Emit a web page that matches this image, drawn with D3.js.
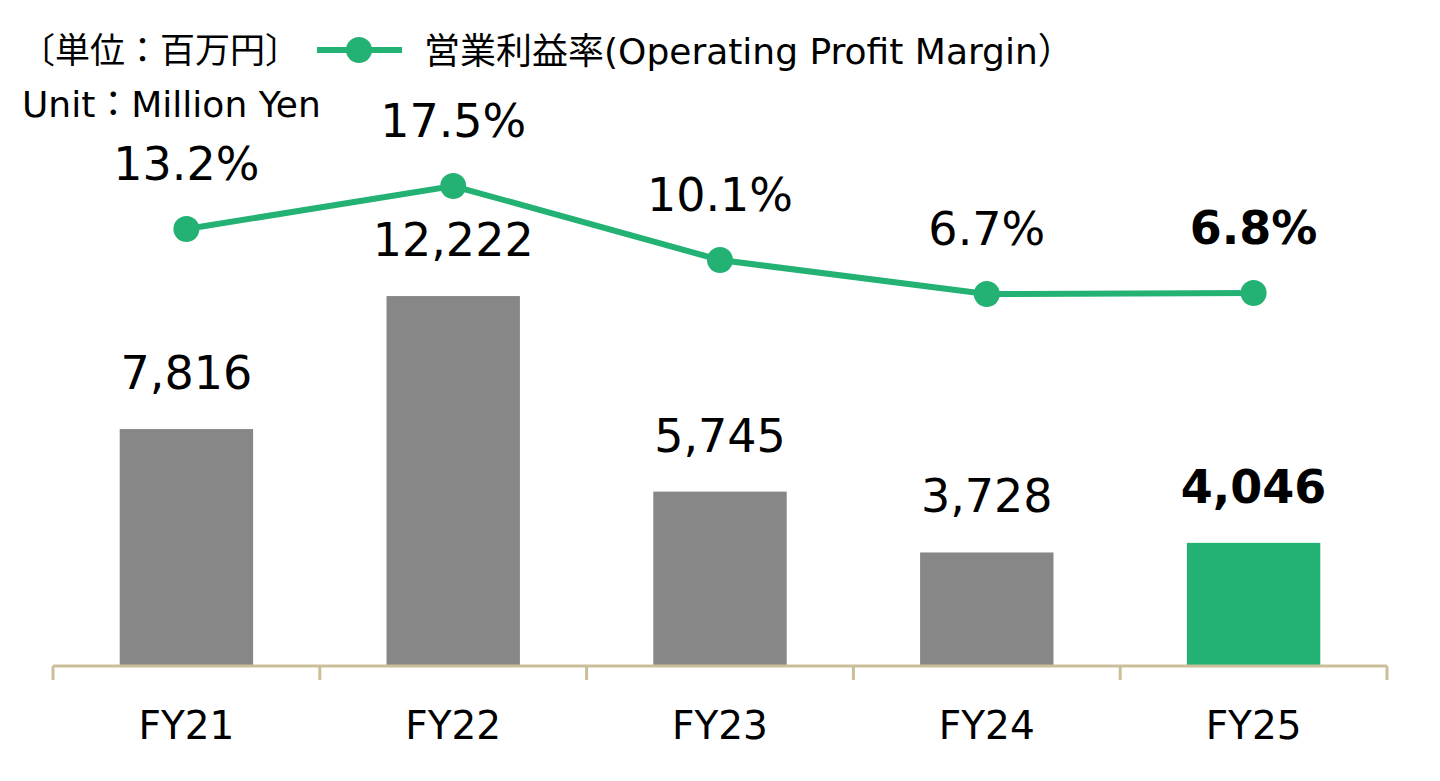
<!DOCTYPE html>
<html>
<head>
<meta charset="utf-8">
<script src="https://cdn.jsdelivr.net/npm/d3@7"></script>
<style>
  body { margin: 0; background: #fff; }
  text { font-family: "DejaVu Sans", "Noto Sans CJK JP", sans-serif; fill: #000; }
</style>
</head>
<body>
<script>
// data
var years = ["FY21", "FY22", "FY23", "FY24", "FY25"];
var profit = [7816, 12222, 5745, 3728, 4046];
var margin = [13.2, 17.5, 10.1, 6.7, 6.8];
var profitLabels = ["7,816", "12,222", "5,745", "3,728", "4,046"];
var marginLabels = ["13.2%", "17.5%", "10.1%", "6.7%", "6.8%"];

var width = 1440, height = 781;
var green = "#23b273", gray = "#878787";

var svg = d3.select("body").append("svg")
    .attr("width", width)
    .attr("height", height);

var x = d3.scaleBand()
    .domain(years)
    .range([53, 1387])
    .paddingInner(0.5)
    .paddingOuter(0.25);

// bars
var y = d3.scaleLinear()
    .domain([0, 22030])
    .range([665, 0]);

// line (percent)
var y2 = d3.scaleLinear()
    .domain([0, 36.1])
    .range([361, 0]);

var data = years.map(function(d, i) {
    return {year: d, profit: profit[i], margin: margin[i], pl: profitLabels[i], ml: marginLabels[i], last: i == years.length - 1};
});

svg.selectAll(".bar")
    .data(data)
    .enter().append("rect")
    .attr("class", "bar")
    .attr("x", function(d) { return x(d.year); })
    .attr("width", x.bandwidth())
    .attr("y", function(d) { return y(d.profit); })
    .attr("height", function(d) { return y(0) - y(d.profit); })
    .attr("fill", function(d) { return d.last ? green : gray; });

// axis with ticks at category boundaries
var step = x.step();
var axis = svg.append("g").attr("transform", "translate(0," + 666 + ")");
axis.append("line")
    .attr("x1", 53).attr("x2", 1387)
    .attr("y1", 0).attr("y2", 0)
    .attr("stroke", "#cbbf99").attr("stroke-width", 3);
var bounds = years.map(function(d) { return x(d) - step * 0.25; });
bounds.push(x(years[years.length - 1]) + x.bandwidth() + step * 0.25);
axis.selectAll(".tk")
    .data(bounds)
    .enter().append("line")
    .attr("x1", function(d) { return d; })
    .attr("x2", function(d) { return d; })
    .attr("y1", 0).attr("y2", 14)
    .attr("stroke", "#cbbf99").attr("stroke-width", 3);

svg.selectAll(".xlab")
    .data(data)
    .enter().append("text")
    .attr("x", function(d) { return x(d.year) + x.bandwidth() / 2; })
    .attr("y", 739)
    .attr("text-anchor", "middle")
    .style("font-size", "39px")
    .text(function(d) { return d.year; });

// bar value labels
svg.selectAll(".vlab")
    .data(data)
    .enter().append("text")
    .attr("x", function(d) { return x(d.year) + x.bandwidth() / 2; })
    .attr("y", function(d) { return y(d.profit) - 40; })
    .attr("text-anchor", "middle")
    .style("font-size", "46px")
    .style("font-weight", function(d) { return d.last ? "bold" : "normal"; })
    .text(function(d) { return d.pl; });

// margin line
var line = d3.line()
    .x(function(d) { return x(d.year) + x.bandwidth() / 2; })
    .y(function(d) { return y2(d.margin); });

svg.append("path")
    .datum(data)
    .attr("d", line)
    .attr("fill", "none")
    .attr("stroke", green)
    .attr("stroke-width", 6);

svg.selectAll(".dot")
    .data(data)
    .enter().append("circle")
    .attr("cx", function(d) { return x(d.year) + x.bandwidth() / 2; })
    .attr("cy", function(d) { return y2(d.margin); })
    .attr("r", 13)
    .attr("fill", green);

svg.selectAll(".mlab")
    .data(data)
    .enter().append("text")
    .attr("x", function(d) { return x(d.year) + x.bandwidth() / 2; })
    .attr("y", function(d) { return y2(d.margin) - 49; })
    .attr("text-anchor", "middle")
    .style("font-size", "46px")
    .style("font-weight", function(d) { return d.last ? "bold" : "normal"; })
    .text(function(d) { return d.ml; });

// unit + legend
svg.append("text").attr("x", 20).attr("y", 63)
    .style("font-size", "35px").text("〔単位：百万円〕");
svg.append("text").attr("x", 22).attr("y", 117)
    .style("font-size", "36px").text("Unit：Million Yen");

svg.append("line")
    .attr("x1", 317).attr("x2", 402).attr("y1", 50).attr("y2", 50)
    .attr("stroke", green).attr("stroke-width", 6);
svg.append("circle").attr("cx", 359).attr("cy", 50).attr("r", 13).attr("fill", green);
svg.append("text").attr("x", 424).attr("y", 64)
    .style("font-size", "36px").text("営業利益率(Operating Profit Margin）");
</script>
</body>
</html>
